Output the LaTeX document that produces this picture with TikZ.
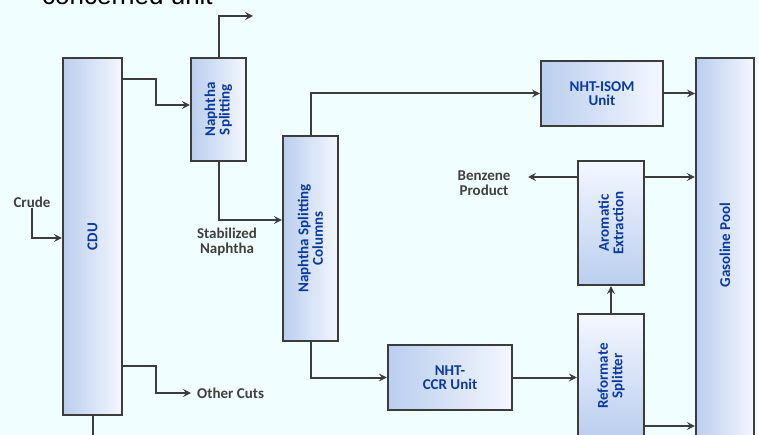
\documentclass[tikz,border=0pt]{standalone}
\usepackage{fontspec}
\setmainfont{Carlito}
\newfontfamily\titlefont{Liberation Sans}
\usetikzlibrary{arrows.meta}

\definecolor{bgcyan}{HTML}{F0FEFF}
\definecolor{boxdark}{HTML}{BACEEE}
\definecolor{boxlight}{HTML}{F4F7FF}
\definecolor{linegray}{HTML}{3C3C3C}
\definecolor{unitblue}{HTML}{0A3A9C}
\definecolor{labelgray}{HTML}{404040}

\tikzset{
  unit/.style={draw=linegray, line width=2.2pt, left color=boxdark, right color=boxlight, inner sep=0pt},
  unitv/.style={draw=linegray, line width=2.2pt, top color=boxlight, bottom color=boxdark, inner sep=0pt},
  unittext/.style={text=unitblue, font=\bfseries\fontsize{15}{14.5}\selectfont, align=center},
  streamtext/.style={text=labelgray, font=\bfseries\fontsize{15}{14.5}\selectfont, align=center, inner sep=0pt},
  flow/.style={draw=linegray, line width=2pt, -{Stealth[length=8pt,width=8pt,inset=3pt]}}
}

\begin{document}
\begin{tikzpicture}[x=1pt, y=-1pt]

        %Background and frame
        \path [use as bounding box, fill=bgcyan] (0,0) rectangle (759,435);
        \clip (0,0) rectangle (759,435);
        \node [anchor=base west, inner sep=0pt, font=\titlefont\fontsize{26}{26}\selectfont] (title) at (42,5) {concerned unit};

        %CDU
        \node [unit, minimum width=59pt, minimum height=357pt] (cdu) at (92.5,236.5) {};
        \node [unittext, rotate=90] (cdutext) at (cdu.center) {CDU};
        \node [streamtext] (crude) at (32,202) {Crude};
        \draw [flow] (crude.south) |- (cdu.west |- 0,238);
        \node [streamtext, anchor=west] (other) at (197,393) {Other Cuts};
        \draw [flow] (cdu.east |- 0,366) -- (156,366) |- ([xshift=-6pt]other.west);
        \coordinate (cdubottom) at (388,442);
        \draw [flow] (cdu.south) |- (cdubottom);

        %Naphtha splitting
        \node [unit, minimum width=55pt, minimum height=103pt] (nsplit) at (218.5,109.5) {};
        \node [unittext, rotate=90] (nsplittext) at (nsplit.center) {Naphtha\\Splitting};
        \draw [flow] (cdu.east |- 0,79) -- (156,79) |- (nsplit.west |- 0,105);
        \coordinate (naphout) at (253,16);
        \draw [flow] (nsplit.north) |- (naphout);

        %Naphtha splitting columns
        \node [unit, minimum width=55pt, minimum height=205pt] (nscol) at (310.5,238.5) {};
        \node [unittext, rotate=90] (nscoltext) at (nscol.center) {Naphtha Splitting\\Columns};
        \draw [flow] (nsplit.south) |- (nscol.west |- 0,220);
        \node [streamtext] (stab) at (227,242) {Stabilized\\Naphtha};

        %NHT-ISOM
        \node [unit, unittext, minimum width=122pt, minimum height=65pt] (isom) at (602,93.5) {NHT-ISOM\\Unit};
        \draw [flow] (nscol.north) |- (isom.west);

        %NHT-CCR
        \node [unit, unittext, minimum width=124pt, minimum height=65pt] (ccr) at (450,377.5) {NHT-\\CCR Unit};
        \draw [flow] (nscol.south) |- (ccr.west);

        %Reformate splitter and aromatic extraction
        \node [unitv, minimum width=66pt, minimum height=124pt] (reform) at (611,376) {};
        \node [unittext, rotate=90] (reformtext) at (reform.center) {Reformate\\Splitter};
        \node [unitv, minimum width=66pt, minimum height=124pt] (arom) at (611,223) {};
        \node [unittext, rotate=90] (aromtext) at (arom.center) {Aromatic\\Extraction};
        \draw [flow] (ccr.east) -- (reform.west |- ccr.east);
        \draw [flow] (reform.north) -- (arom.south);
        \node [streamtext] (benz) at (484,183) {Benzene\\Product};
        \coordinate (benzout) at (528,177);
        \draw [flow] (arom.west |- 0,177) -- (benzout);

        %Gasoline pool
        \node [unit, minimum width=58pt, minimum height=420pt] (pool) at (725,268) {};
        \node [unittext, rotate=90] (pooltext) at (725,245) {Gasoline Pool};
        \draw [flow] (isom.east) -- (pool.west |- isom.east);
        \draw [flow] (arom.east |- 0,177) -- (pool.west |- 0,177);
        \draw [flow] (reform.east |- 0,426) -- (pool.west |- 0,426);

\end{tikzpicture}
\end{document}
